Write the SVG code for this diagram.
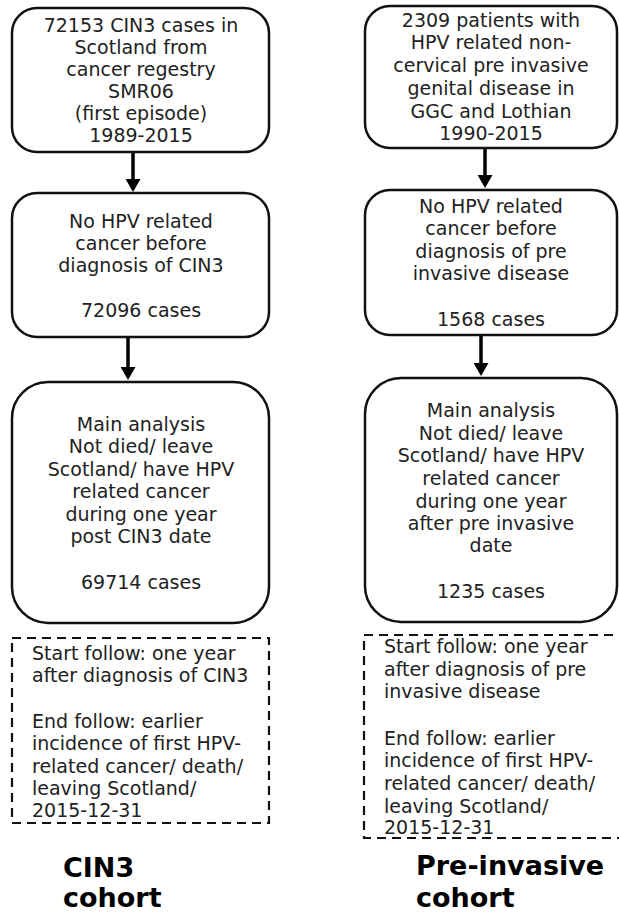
<svg xmlns="http://www.w3.org/2000/svg" width="619" height="912" viewBox="0 0 619 912">
<style>
.box{fill:#fff;stroke:#111;stroke-width:2.5}
.dash{fill:none;stroke:#111;stroke-width:2.2;stroke-dasharray:9 6}
.t{font-family:"DejaVu Sans","Verdana",sans-serif;font-size:19px;fill:#222}
.c{text-anchor:middle}
.b{font-family:"DejaVu Sans","Verdana",sans-serif;font-size:27px;font-weight:bold;fill:#000}
.arr{stroke:#000;stroke-width:3.5;fill:none}
</style>
<defs>
<marker id="ah" viewBox="0 0 13 15" refX="2" refY="7.5" markerWidth="13" markerHeight="15" orient="auto" markerUnits="userSpaceOnUse">
<path d="M0,0 L13,7.5 L0,15 z" fill="#000"/>
</marker>
</defs>
<rect width="619" height="912" fill="#fff"/>
<g id="connectors">
<line class="arr" x1="133" y1="152" x2="133" y2="181" marker-end="url(#ah)"/>
<line class="arr" x1="128" y1="337" x2="128" y2="369" marker-end="url(#ah)"/>
<line class="arr" x1="485" y1="148" x2="485" y2="177" marker-end="url(#ah)"/>
<line class="arr" x1="481" y1="335" x2="481" y2="365" marker-end="url(#ah)"/>
</g>
<g id="L1">
<rect class="box" x="12" y="8" width="257" height="144" rx="25"/>
<text class="t c" x="141"><tspan x="141" y="32">72153 CIN3 cases in</tspan><tspan x="141" y="54">Scotland from</tspan><tspan x="141" y="76">cancer regestry</tspan><tspan x="141" y="98">SMR06</tspan><tspan x="141" y="120">(first episode)</tspan><tspan x="141" y="142">1989-2015</tspan></text>
</g>
<g id="L2">
<rect class="box" x="12" y="193" width="257" height="144" rx="25"/>
<text class="t c"><tspan x="141" y="228">No HPV related</tspan><tspan x="141" y="250">cancer before</tspan><tspan x="141" y="272">diagnosis of CIN3</tspan><tspan x="141" y="317">72096 cases</tspan></text>
</g>
<g id="L3">
<rect class="box" x="12" y="382" width="257" height="241" rx="36"/>
<text class="t c"><tspan x="141" y="431">Main analysis</tspan><tspan x="141" y="453">Not died/ leave</tspan><tspan x="141" y="476">Scotland/ have HPV</tspan><tspan x="141" y="498">related cancer</tspan><tspan x="141" y="521">during one year</tspan><tspan x="141" y="543">post CIN3 date</tspan><tspan x="141" y="589">69714 cases</tspan></text>
</g>
<g id="L4">
<rect class="dash" x="12" y="638" width="257" height="185"/>
<text class="t"><tspan x="32" y="660">Start follow: one year</tspan><tspan x="32" y="682">after diagnosis of CIN3</tspan><tspan x="32" y="728">End follow: earlier</tspan><tspan x="32" y="750">incidence of first HPV-</tspan><tspan x="32" y="773">related cancer/ death/</tspan><tspan x="32" y="795">leaving Scotland/</tspan><tspan x="32" y="817">2015-12-31</tspan></text>
</g>
<g id="L5">
<text class="b"><tspan x="63" y="877">CIN3</tspan><tspan x="63" y="907">cohort</tspan></text>
</g>
<g id="R1">
<rect class="box" x="365" y="6" width="252" height="142" rx="25"/>
<text class="t c"><tspan x="491" y="27">2309 patients with</tspan><tspan x="491" y="49">HPV related non-</tspan><tspan x="491" y="72">cervical pre invasive</tspan><tspan x="491" y="95">genital disease in</tspan><tspan x="491" y="118">GGC and Lothian</tspan><tspan x="491" y="140">1990-2015</tspan></text>
</g>
<g id="R2">
<rect class="box" x="365" y="190" width="252" height="145" rx="25"/>
<text class="t c"><tspan x="491" y="213">No HPV related</tspan><tspan x="491" y="235">cancer before</tspan><tspan x="491" y="258">diagnosis of pre</tspan><tspan x="491" y="280">invasive disease</tspan><tspan x="491" y="326">1568 cases</tspan></text>
</g>
<g id="R3">
<rect class="box" x="365" y="378" width="252" height="244" rx="36"/>
<text class="t c"><tspan x="491" y="417">Main analysis</tspan><tspan x="491" y="440">Not died/ leave</tspan><tspan x="491" y="462">Scotland/ have HPV</tspan><tspan x="491" y="485">related cancer</tspan><tspan x="491" y="508">during one year</tspan><tspan x="491" y="530">after pre invasive</tspan><tspan x="491" y="552">date</tspan><tspan x="491" y="598">1235 cases</tspan></text>
</g>
<g id="R4">
<rect class="dash" x="364" y="635" width="262" height="203"/>
<text class="t"><tspan x="384" y="653">Start follow: one year</tspan><tspan x="384" y="676">after diagnosis of pre</tspan><tspan x="384" y="698">invasive disease</tspan><tspan x="384" y="745">End follow: earlier</tspan><tspan x="384" y="767">incidence of first HPV-</tspan><tspan x="384" y="790">related cancer/ death/</tspan><tspan x="384" y="813">leaving Scotland/</tspan><tspan x="384" y="834">2015-12-31</tspan></text>
</g>
<g id="R5">
<text class="b"><tspan x="416" y="875">Pre-invasive</tspan><tspan x="416" y="907">cohort</tspan></text>
</g>
</svg>
